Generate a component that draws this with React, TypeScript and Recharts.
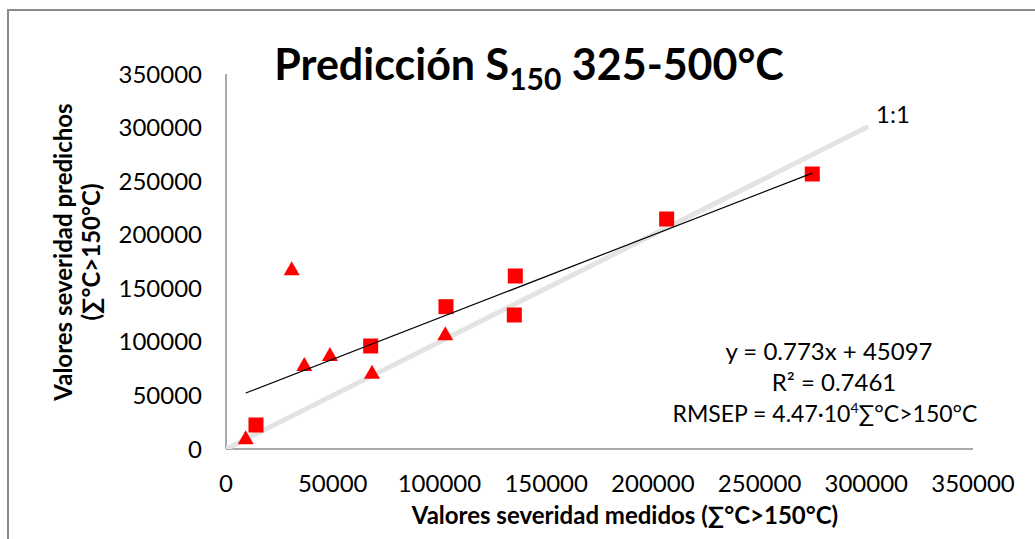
import React from 'react';
import { ScatterChart, Scatter, XAxis, YAxis } from 'recharts';

// ---- data ----
const axisTicks = [0, 50000, 100000, 150000, 200000, 250000, 300000, 350000];

const squareMeasured = [14050, 67780, 103070, 135550, 135080, 206460, 274700];
const squarePredicted = [22400, 96130, 132830, 161470, 125070, 214670, 256670];

const triangleMeasured = [9230, 30780, 36700, 48700, 68400, 102750];
const trianglePredicted = [10900, 168650, 79300, 88700, 72150, 107970];

const trendX = [9230, 274700];
const trendY = [52230, 257440];

const oneToOneX = [0, 300000];
const oneToOneY = [0, 300000];

const squares = squareMeasured.map((x, i) => ({ x, y: squarePredicted[i] }));
const triangles = triangleMeasured.map((x, i) => ({ x, y: trianglePredicted[i] }));
const trend = trendX.map((x, i) => ({ x, y: trendY[i] }));
const oneToOne = oneToOneX.map((x, i) => ({ x, y: oneToOneY[i] }));

const FONT = 'Lato, "Open Sans", sans-serif';
const RED = '#ff0000';

const SquareShape = (props: any) => {
  const { cx, cy } = props;
  if (cx == null || cy == null) return null;
  const s = 15;
  return <rect x={cx - s / 2} y={cy - s / 2} width={s} height={s} fill={RED} />;
};

const TriangleShape = (props: any) => {
  const { cx, cy } = props;
  if (cx == null || cy == null) return null;
  const w = 16;
  const h = 14;
  const pts = `${cx},${cy - h / 2} ${cx + w / 2},${cy + h / 2} ${cx - w / 2},${cy + h / 2}`;
  return <polygon points={pts} fill={RED} />;
};

const NoShape = () => null;

const YTick = (props: any) => {
  const { x, y, payload } = props;
  return (
    <text x={x - 24} y={y + 8.5} textAnchor="end" fontFamily={FONT} fontSize={24} fill="#000">
      {payload.value}
    </text>
  );
};

const XTick = (props: any) => {
  const { x, y, payload } = props;
  return (
    <text x={x} y={y + 43} textAnchor="middle" fontFamily={FONT} fontSize={24} fill="#000">
      {payload.value}
    </text>
  );
};

export default function App() {
  return (
    <div style={{ position: 'absolute', left: 0, top: 0, width: 1035, height: 539, background: '#fff' }}>
      <div
        style={{
          position: 'absolute',
          left: 7,
          top: 9,
          width: 1035,
          height: 539,
          borderLeft: '2px solid #8a8a8a',
          borderTop: '2px solid #8a8a8a',
        }}
      />
      <div style={{ position: 'absolute', left: 0, top: 0 }}>
        <ScatterChart
          width={1035}
          height={539}
          margin={{ top: 74, right: 62, bottom: 50, left: 0 }}
        >
          <XAxis
            type="number"
            dataKey="x"
            domain={[0, 350000]}
            ticks={axisTicks}
            interval={0}
            tickLine={false}
            tickSize={0}
            tickMargin={0}
            height={40}
            axisLine={{ stroke: '#8c8c8c', strokeWidth: 1.5 }}
            tick={<XTick />}
            allowDataOverflow
          />
          <YAxis
            type="number"
            dataKey="y"
            domain={[0, 350000]}
            ticks={axisTicks}
            interval={0}
            tickLine={false}
            tickSize={0}
            tickMargin={0}
            width={226}
            axisLine={{ stroke: '#8c8c8c', strokeWidth: 1.5 }}
            tick={<YTick />}
            allowDataOverflow
          />
          <Scatter
            data={oneToOne}
            line={{ stroke: '#e3e3e3', strokeWidth: 5, strokeLinecap: 'round' } as any}
            shape={<NoShape />}
            isAnimationActive={false}
          />
          <Scatter data={triangles} shape={<TriangleShape />} isAnimationActive={false} />
          <Scatter data={squares} shape={<SquareShape />} isAnimationActive={false} />
          <Scatter
            data={trend}
            line={{ stroke: '#000', strokeWidth: 1.2 }}
            shape={<NoShape />}
            isAnimationActive={false}
          />
        </ScatterChart>
      </div>
      <svg
        width={1035}
        height={539}
        style={{ position: 'absolute', left: 0, top: 0, pointerEvents: 'none' }}
      >
        <text x={529} y={80} textAnchor="middle" fontFamily={FONT} fontWeight={700} fontSize={43} fill="#000">
          Predicción S<tspan fontSize={30} dy={10}>150</tspan>
          <tspan dy={-10}> 325-500°C</tspan>
        </text>
        <text x={893} y={123} textAnchor="middle" fontFamily={FONT} fontSize={24} fill="#000">
          1:1
        </text>
        <text x={829} y={360} textAnchor="middle" fontFamily={FONT} fontSize={24} fill="#000">
          y = 0.773x + 45097
        </text>
        <text x={834} y={391} textAnchor="middle" fontFamily={FONT} fontSize={24} fill="#000">
          R² = 0.7461
        </text>
        <text x={825} y={422} textAnchor="middle" fontFamily={FONT} fontSize={23} fill="#000">
          RMSEP = 4.47·10<tspan fontSize={14} dy={-9}>4</tspan>
          <tspan dy={9}>∑°C&gt;150°C</tspan>
        </text>
        <text x={625} y={524} textAnchor="middle" fontFamily={FONT} fontWeight={700} fontSize={24} fill="#000">
          Valores severidad medidos (∑°C&gt;150°C)
        </text>
        <g transform="translate(62,252) rotate(-90)">
          <text x={0} y={0} textAnchor="middle" dominantBaseline="central" fontFamily={FONT} fontWeight={700} fontSize={24} fill="#000">
            Valores severidad predichos
          </text>
        </g>
        <g transform="translate(90,252) rotate(-90)">
          <text x={0} y={0} textAnchor="middle" dominantBaseline="central" fontFamily={FONT} fontWeight={700} fontSize={24} fill="#000">
            (∑°C&gt;150°C)
          </text>
        </g>
      </svg>
    </div>
  );
}
